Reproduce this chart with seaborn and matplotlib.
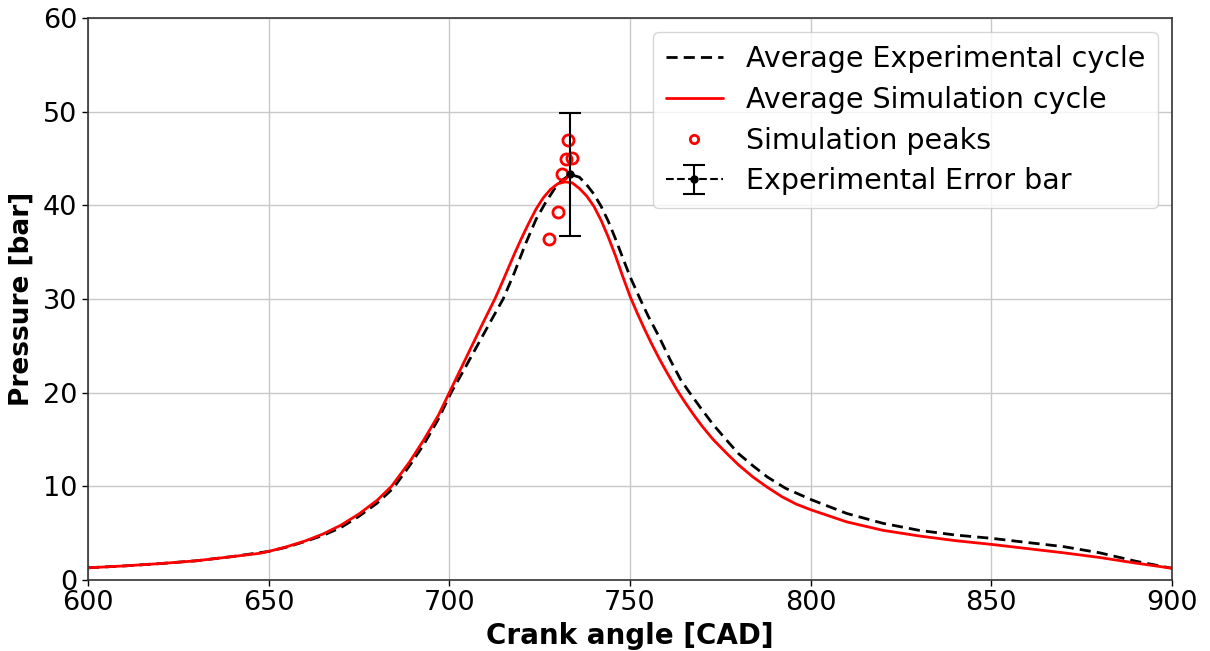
import numpy as np
import pandas as pd
import matplotlib
matplotlib.use("Agg")
import matplotlib.pyplot as plt
import seaborn as sns

# ---- data ----
sim_cad = [600, 610, 620, 630, 640, 647.6, 650, 655, 660, 665, 670, 675, 680, 684,
           689, 693, 697, 700, 703, 706, 709, 712.6, 714, 716, 718, 720, 722, 724,
           726, 728, 730, 732, 734, 736, 738, 740, 742, 744, 746, 748, 750, 752,
           754, 756, 758, 760, 763, 765, 767.5, 770, 773, 776.8, 780, 784, 788,
           792, 796, 800, 810, 820, 830, 840, 850, 860, 870, 880, 890, 900]
sim_p = [1.3, 1.5, 1.75, 2.05, 2.5, 2.85, 3.05, 3.55, 4.15, 4.9, 5.85, 7.05, 8.5, 10.0,
         12.6, 15.0, 17.6, 20.0, 22.4, 24.8, 27.2, 30.0, 31.2, 33.0, 34.8, 36.5, 38.1, 39.6,
         40.8, 41.7, 42.3, 42.5, 42.4, 41.8, 41.0, 39.9, 38.4, 36.6, 34.6, 32.4, 30.3, 28.5,
         26.8, 25.2, 23.7, 22.3, 20.3, 19.1, 17.7, 16.4, 15.0, 13.5, 12.3, 11.0, 9.9,
         8.9, 8.1, 7.5, 6.2, 5.3, 4.7, 4.2, 3.8, 3.35, 2.9, 2.4, 1.8, 1.25]

exp_cad = [600, 610, 620, 630, 640, 650, 655, 660, 665, 670, 675, 680, 684.5, 689,
           693, 697, 700.5, 704, 708, 712, 714.9, 718, 721, 724, 726.5, 729, 731,
           733.5, 736, 738, 740, 742, 744, 746, 748, 750, 752.8, 755, 758, 761, 764,
           766.5, 769.5, 773, 776.8, 780, 784, 788, 793, 800, 810, 820, 830, 840,
           850, 860, 870, 880, 890, 900]
exp_p = [1.3, 1.5, 1.75, 2.05, 2.5, 3.05, 3.5, 4.1, 4.75, 5.6, 6.8, 8.2, 9.8, 12.2,
         14.5, 17.2, 20.0, 22.4, 25.2, 28.0, 30.0, 32.8, 35.8, 38.5, 40.2, 41.7, 42.6,
         43.3, 43.0, 42.2, 41.2, 39.9, 38.3, 36.4, 34.4, 32.4, 30.0, 28.2, 26.0, 23.6, 21.4,
         20.0, 18.4, 16.6, 14.9, 13.5, 12.2, 11.0, 9.8, 8.6, 7.1, 6.05, 5.3, 4.8,
         4.45, 4.0, 3.56, 2.9, 2.0, 1.25]

peak_cad = [727.7, 730.0, 731.1, 732.2, 733.9, 732.9]
peak_p = [36.4, 39.3, 43.3, 44.9, 45.1, 47.0]

err_cad = [733.3]
err_p = [43.3]
err_half = [6.6]

x_ticks = [600, 650, 700, 750, 800, 850, 900]
y_ticks = [0, 10, 20, 30, 40, 50, 60]

# ---- plotting ----
sns.set_style("ticks")
plt.rcParams["font.family"] = ["DejaVu Sans"]
plt.rcParams["text.color"] = "black"
plt.rcParams["axes.labelcolor"] = "black"
plt.rcParams["xtick.color"] = "black"
plt.rcParams["ytick.color"] = "black"

fig = plt.figure(figsize=(12.1, 6.51), dpi=100)
ax = fig.add_axes([0.0727, 0.1091, 0.8959, 0.8633])

sim_df = pd.DataFrame({"cad": sim_cad, "p": sim_p})
exp_df = pd.DataFrame({"cad": exp_cad, "p": exp_p})

sns.lineplot(data=exp_df, x="cad", y="p", ax=ax, color="black", linewidth=2,
             linestyle=(0, (4, 2.2)), label="Average Experimental cycle", sort=False)
sns.lineplot(data=sim_df, x="cad", y="p", ax=ax, color="red", linewidth=2,
             label="Average Simulation cycle", sort=False)
ax.plot(peak_cad, peak_p, linestyle="none", marker="o", markersize=8,
        markerfacecolor="none", markeredgecolor="red", markeredgewidth=2,
        label="Simulation peaks")
ax.errorbar(err_cad, err_p, yerr=err_half, fmt="--", color="black", marker="o",
            markersize=5, capsize=8, elinewidth=1.5, capthick=1.5,
            label="Experimental Error bar")

ax.set_xlim(600, 900)
ax.set_ylim(0, 60)
ax.set_xticks(x_ticks)
ax.set_yticks(y_ticks)
ax.tick_params(labelsize=19.5, width=1, length=4, colors="black")
ax.grid(True, color="#c8c8c8", linewidth=1)
for s in ax.spines.values():
    s.set_color("#333333")
    s.set_linewidth(1.2)

ax.set_xlabel("Crank angle [CAD]", fontsize=20, fontweight="bold", labelpad=4,
              color="black")
ax.set_ylabel("Pressure [bar]", fontsize=19, fontweight="bold", labelpad=6,
              color="black")

leg = ax.legend(loc="upper right", fontsize=20.5, frameon=True, fancybox=True,
                framealpha=0.8, edgecolor="#cccccc", borderpad=0.45,
                handlelength=2.0, labelspacing=0.45)
for t in leg.get_texts():
    t.set_color("black")
for h in leg.legend_handles:
    try:
        if h.get_label() == "Simulation peaks":
            h.set_markersize(6)
    except Exception:
        pass

fig.savefig("out.png", dpi=100)
